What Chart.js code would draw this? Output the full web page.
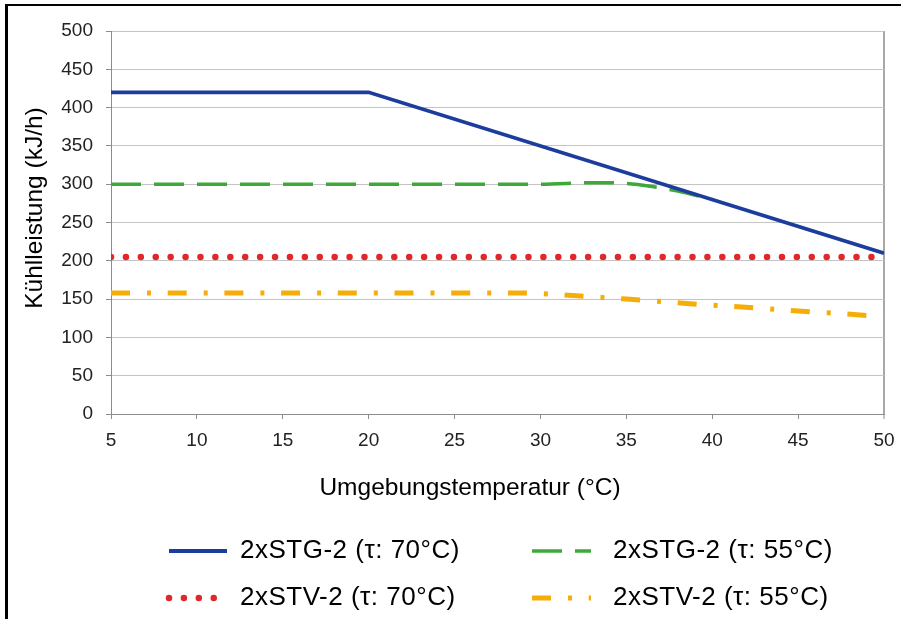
<!DOCTYPE html>
<html><head><meta charset="utf-8">
<script src="https://cdn.jsdelivr.net/npm/chart.js@4.4.1/dist/chart.umd.min.js"></script>
<style>
html,body{margin:0;padding:0;background:#fff;}
#wrap{position:relative;width:901px;height:619px;overflow:hidden;background:#fff;}
#frame{position:absolute;left:5px;top:4px;width:900px;height:620px;border-top:2px solid #000;border-left:3px solid #000;pointer-events:none;}
canvas{position:absolute;left:0;top:0;}
</style></head><body>
<div id="wrap"><canvas id="c" width="901" height="619"></canvas><div id="frame"></div></div>
<script>
// ---- data ----
const seriesLabels = ['2xSTG-2 (\u03C4: 70°C)', '2xSTG-2 (\u03C4: 55°C)', '2xSTV-2 (\u03C4: 70°C)', '2xSTV-2 (\u03C4: 55°C)'];
const stg70X = [5, 20, 50];
const stg70Y = [420, 420, 210];
const stg55X = [5, 30, 33, 35, 36.5, 38, 40];
const stg55Y = [300, 300, 302, 301, 297, 291, 280];
const stv70X = [5, 50];
const stv70Y = [205, 205];
const stv55X = [5, 29, 31, 33, 35, 37.5, 40, 42.5, 45, 47.5, 50];
const stv55Y = [158, 158, 156, 153, 150, 146, 142, 138.5, 134.5, 131, 127];
const xTicks = [5, 10, 15, 20, 25, 30, 35, 40, 45, 50];
const yTicks = [0, 50, 100, 150, 200, 250, 300, 350, 400, 450, 500];
const xTitle = 'Umgebungstemperatur (°C)';
const yTitle = 'Kühlleistung (kJ/h)';

const pts = (xs, ys) => xs.map((x, i) => ({x: x, y: ys[i]}));

const FONT = "'Liberation Sans', Arial, Helvetica, sans-serif";

// axis titles placed like the reference (slightly off-centre)
const titlePlugin = {
  id: 'axisTitles',
  afterDraw(chart, args, o) {
    const ctx = chart.ctx;
    ctx.save();
    ctx.fillStyle = o.color;
    ctx.font = o.fontSize + 'px ' + FONT;
    ctx.textAlign = 'center';
    ctx.textBaseline = 'middle';
    ctx.fillText(o.x.text, o.x.cx, o.x.cy);
    ctx.translate(o.y.cx, o.y.cy);
    ctx.rotate(-Math.PI / 2);
    ctx.fillText(o.y.text, 0, 0);
    ctx.restore();
  }
};

const legendPlugin = {
  id: 'twoColLegend',
  afterDraw(chart, args, o) {
    const ctx = chart.ctx;
    ctx.save();
    chart.data.datasets.forEach((ds, i) => {
      const col = i % 2, row = Math.floor(i / 2);
      const x = o.sampleX[col], y = o.rows[row];
      ctx.beginPath();
      ctx.setLineDash(ds.borderDash || []);
      ctx.lineDashOffset = 0;
      ctx.lineWidth = ds.borderWidth;
      ctx.strokeStyle = ds.borderColor;
      ctx.lineCap = ds.borderCapStyle || 'butt';
      ctx.moveTo(x, y);
      ctx.lineTo(x + o.sampleW[col], y);
      ctx.stroke();
      ctx.setLineDash([]);
      ctx.fillStyle = o.color;
      ctx.font = o.fontSize + 'px ' + FONT;
      if ('letterSpacing' in ctx) ctx.letterSpacing = o.letterSpacing + 'px';
      ctx.textBaseline = 'middle';
      ctx.textAlign = 'left';
      ctx.fillText(ds.label, o.textX[col], y);
    });
    ctx.restore();
  }
};

new Chart(document.getElementById('c'), {
  type: 'line',
  data: {
    datasets: [
      {label: seriesLabels[0], data: pts(stg70X, stg70Y), borderColor: '#1c3d9c', borderWidth: 3.8, borderCapStyle: 'butt', tension: 0},
      {label: seriesLabels[1], data: pts(stg55X, stg55Y), borderColor: '#3fa83a', borderWidth: 3.5, borderDash: [30, 13], borderCapStyle: 'butt', cubicInterpolationMode: 'monotone'},
      {label: seriesLabels[2], data: pts(stv70X, stv70Y), borderColor: '#e0282a', borderWidth: 6.5, borderDash: [0.01, 14.9], borderCapStyle: 'round'},
      {label: seriesLabels[3], data: pts(stv55X, stv55Y), borderColor: '#f5ae08', borderWidth: 5, borderDash: [19, 17, 4, 16.7], borderCapStyle: 'butt', cubicInterpolationMode: 'monotone'}
    ]
  },
  options: {
    responsive: false,
    animation: false,
    devicePixelRatio: 1,
    layout: {padding: {left: 0, right: 17, top: 31, bottom: 117}},
    elements: {point: {radius: 0, hoverRadius: 0}, line: {fill: false}},
    plugins: {
      legend: {display: false},
      tooltip: {enabled: false},
      axisTitles: {color: '#000', fontSize: 24.5,
        x: {text: xTitle, cx: 470, cy: 488},
        y: {text: yTitle, cx: 35, cy: 208}},
      twoColLegend: {sampleX: [169, 532], sampleW: [58, 59], textX: [240, 613], rows: [551, 598], fontSize: 26, letterSpacing: 0.5, color: '#000'}
    },
    scales: {
      x: {
        type: 'linear', min: 5, max: 50,
        afterBuildTicks: (s) => { s.ticks = xTicks.map(v => ({value: v})); },
        afterFit: (s) => { s.height = 88; s.paddingLeft = 0; s.paddingRight = 0; },
        ticks: {color: '#222', font: {family: FONT, size: 19}, padding: 10, maxRotation: 0},
        grid: {
          color: (c) => (c.tick && c.tick.value === 50) ? '#a8a8a8' : 'rgba(0,0,0,0)',
          lineWidth: (c) => (c.tick && c.tick.value === 50) ? 2 : 1,
          tickColor: '#8c8c8c', tickLength: 5, tickWidth: 1, drawOnChartArea: true
        },
        border: {color: '#8c8c8c', width: 1},
        title: {display: false}
      },
      y: {
        type: 'linear', min: 0, max: 500,
        afterBuildTicks: (s) => { s.ticks = yTicks.map(v => ({value: v})); },
        afterFit: (s) => { s.width = 111; s.paddingTop = 0; s.paddingBottom = 0; },
        ticks: {color: '#222', font: {family: FONT, size: 19}, padding: 13},
        grid: {color: '#c4c4c4', lineWidth: 1, tickColor: '#8c8c8c', tickLength: 5},
        border: {color: '#8c8c8c', width: 1},
        title: {display: false}
      }
    }
  },
  plugins: [titlePlugin, legendPlugin]
});
</script>
</body></html>
